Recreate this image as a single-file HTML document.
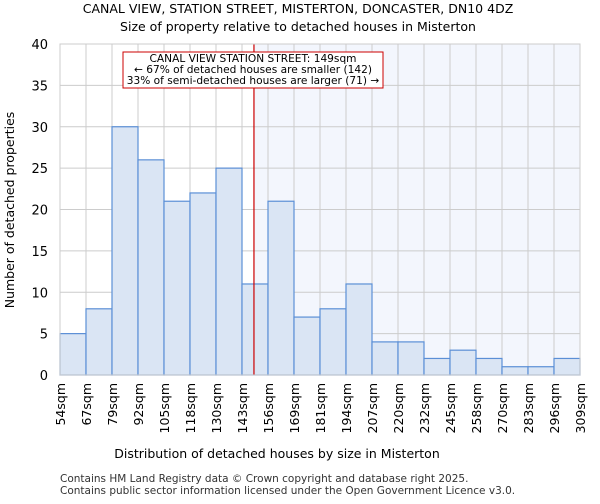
<!DOCTYPE html>
<html><head><meta charset="utf-8"><style>
body{margin:0;background:#fff;font-family:"DejaVu Sans","Liberation Sans",sans-serif;}
</style></head><body>
<svg width="600" height="500" xmlns="http://www.w3.org/2000/svg" font-family="DejaVu Sans, Liberation Sans, sans-serif">
<text x="298" y="13" text-anchor="middle" font-size="12.5">CANAL VIEW, STATION STREET, MISTERTON, DONCASTER, DN10 4DZ</text>
<text x="298" y="31" text-anchor="middle" font-size="12.5">Size of property relative to detached houses in Misterton</text>
<g id="plot"></g>
<text x="277" y="458" text-anchor="middle" font-size="12.5">Distribution of detached houses by size in Misterton</text>
<text transform="translate(14,210) rotate(-90)" text-anchor="middle" font-size="12.5">Number of detached properties</text>
<text x="60" y="482" font-size="10.5" fill="#333">Contains HM Land Registry data © Crown copyright and database right 2025.</text>
<text x="60" y="494" font-size="10.5" fill="#333">Contains public sector information licensed under the Open Government Licence v3.0.</text>
</svg>
<script>
const labels=["54sqm","67sqm","79sqm","92sqm","105sqm","118sqm","130sqm","143sqm","156sqm","169sqm","181sqm","194sqm","207sqm","220sqm","232sqm","245sqm","258sqm","270sqm","283sqm","296sqm","309sqm"];
const counts=[5,8,30,26,21,22,25,11,21,7,8,11,4,4,2,3,2,1,1,2];
const yTicks=[0,5,10,15,20,25,30,35,40];
const markerBin=7.46;
const NS="http://www.w3.org/2000/svg";
const g=document.getElementById('plot');
const X0=60,X1=580,Y0=375,Y1=44,bw=(X1-X0)/counts.length;
const xs=i=>X0+i*bw, ys=v=>Y0-(v/40)*(Y0-Y1);
function el(t,a){const e=document.createElementNS(NS,t);for(const k in a)e.setAttribute(k,a[k]);g.appendChild(e);return e;}
const mx=xs(markerBin);
let sh=el('rect',{x:mx,y:Y1,width:X1-mx,height:Y0-Y1,fill:'#f3f6fd'});

yTicks.forEach(t=>{let l=el('line',{x1:X0,x2:X1,y1:ys(t),y2:ys(t),stroke:'#ccc'});

let tx=el('text',{x:X0-12,y:ys(t)+5,'text-anchor':'end','font-size':'13'});tx.textContent=t;
});
labels.forEach((s,i)=>{let l=el('line',{x1:xs(i),x2:xs(i),y1:Y1,y2:Y0,stroke:'#ccc'});

let tx=el('text',{transform:`translate(${xs(i)+5},${Y0+8}) rotate(-90)`,'text-anchor':'end','font-size':'12.5'});tx.textContent=s;
});
counts.forEach((v,i)=>{let r=el('rect',{x:xs(i),y:ys(v),width:bw,height:Y0-ys(v),fill:'#dae5f4',stroke:'#5b8fd6','stroke-width':1.2});
});
let ml=el('line',{x1:mx,x2:mx,y1:Y1,y2:Y0,stroke:'#cc0000','stroke-width':1.2});

let bx=el('rect',{x:123,y:52,width:260,height:36,fill:'#fff',stroke:'#cc0000'});

["CANAL VIEW STATION STREET: 149sqm","← 67% of detached houses are smaller (142)","33% of semi-detached houses are larger (71) →"].forEach((s,i)=>{
let t=el('text',{x:253,y:62+i*11,'text-anchor':'middle','font-size':'10.6'});t.textContent=s;
});
let ax=el('rect',{x:X0,y:Y1,width:X1-X0,height:Y0-Y1,fill:'none',stroke:'#ccc'});

</script>
</body></html>
